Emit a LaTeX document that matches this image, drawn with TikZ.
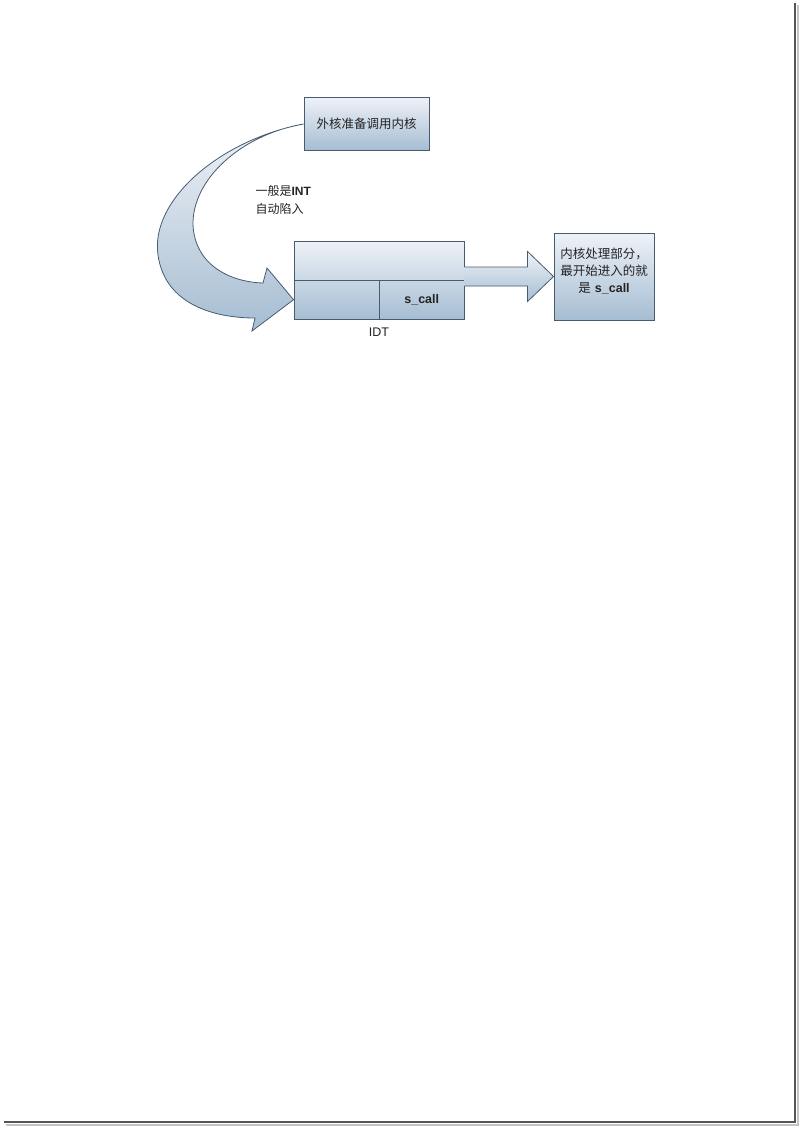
\documentclass[tikz,border=0pt]{standalone}
\usepackage{fontspec}
\setmainfont{Liberation Sans}
\newfontfamily\cjk{Noto Sans CJK SC}
\usepackage{tikz}
\usetikzlibrary{calc,positioning}
\definecolor{kernBlueLight}{RGB}{238,242,247}
\definecolor{kernBlueDark}{RGB}{166,189,210}
\definecolor{kernEdge}{RGB}{72,92,112}
\definecolor{kernText}{RGB}{35,35,35}
\definecolor{pageShadow}{RGB}{85,85,85}

\begin{document}
\begin{tikzpicture}[x=1pt,y=-1pt,
  kbox/.style={draw=kernEdge, line width=0.9pt, top color=kernBlueLight, bottom color=kernBlueDark, text=kernText},
  karrow/.style={draw=kernEdge, line width=0.8pt, top color=kernBlueLight, bottom color=kernBlueDark},
  ktext/.style={text=kernText, font=\cjk\fontsize{12.5}{17}\selectfont}]
\useasboundingbox (0,0) rectangle (798,1126);
\fill[white] (0,0) rectangle (798,1126);
\draw[pageShadow!35, line width=2pt] (6,1124.5) -- (797.5,1124.5) -- (797.5,5);
\draw[pageShadow, line width=1.6pt] (4,1122) -- (795,1122) -- (795,3);

\node[kbox, ktext, minimum width=125pt, minimum height=53pt] (outer) at (366.5,124) {外核准备调用内核};
\node[kbox, minimum width=170pt, minimum height=78pt] (idt) at (379,280) {};
\draw[kernEdge, line width=0.9pt] (idt.west) -- (idt.east) (idt.center) -- (idt.south);
\node[ktext, font=\normalfont\bfseries\fontsize{12.5}{15}\selectfont] (scall) at ($(idt.center)!0.5!(idt.south east)$) {s\_call};
\node[ktext, font=\normalfont\fontsize{12.5}{15}\selectfont, below=5pt of idt] (idtname) {IDT};
\node[kbox, minimum width=100pt, minimum height=87pt] (kern) at (604,276.5) {};
\node[ktext, align=center, text width=96pt] (kerntext) at ($(kern.center)+(0,-6)$) {内核处理部分，\\最开始进入的就\\是 {\normalfont\bfseries s\_call}};
\node[ktext, align=left, anchor=west, font=\cjk\fontsize{12}{18}\selectfont] (trap) at (252,200) {一般是{\normalfont\bfseries INT}\\自动陷入};

\coordinate (tip) at (kern.west);
\coordinate (base) at (idt.east |- tip);
\draw[karrow] ($(base)+(0,-9.5)$) -- ($(tip)+(-26,-9.5)$) -- ($(tip)+(-26,-25)$) -- (tip)
  -- ($(tip)+(-26,25)$) -- ($(tip)+(-26,9.5)$) -- ($(base)+(0,9.5)$);

\coordinate (ctip) at ($(idt.west)!0.5!(idt.south west)$);
\draw[karrow] (outer.west) .. controls (220,140) and (150,200) .. (158,255)
  .. controls (165,305) and (215,318) .. (255,318) -- (252,331) -- (ctip) -- (267,268) -- (263,283)
  .. controls (230,282) and (195,265) .. (193,225) .. controls (192,180) and (240,135) .. (outer.west);
\end{tikzpicture}
\end{document}
